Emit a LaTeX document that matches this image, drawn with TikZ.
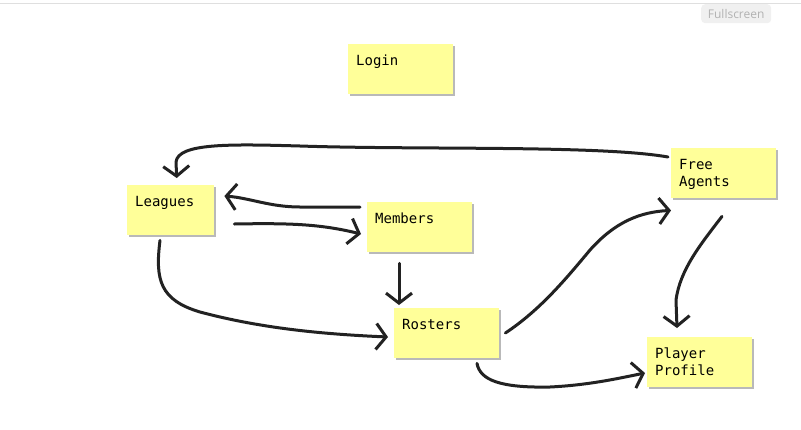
\documentclass[tikz,border=0pt]{standalone}
\usepackage{fontspec}
\newfontfamily\notefont{DejaVu Sans Mono}
\newfontfamily\uifont{Open Sans}
\usetikzlibrary{arrows.meta,shadows}

\definecolor{stickyyellow}{RGB}{255,255,153}
\definecolor{inkblack}{RGB}{34,34,34}

\tikzset{
  sticky/.style={fill=stickyyellow, anchor=north west, align=left,
    text width=89pt, inner xsep=8pt, inner ysep=0pt,
    text height=21pt, text depth=29pt, font=\notefont\fontsize{14}{17}\selectfont,
    drop shadow={shadow xshift=1.5pt, shadow yshift=-1.5pt, opacity=.55, fill=gray}},
  ink/.style={draw=inkblack, line width=3pt, line cap=round, line join=round,
    -{Straight Barb[length=10pt,width=26pt]}}
}

\begin{document}
\begin{tikzpicture}[x=1pt,y=-1pt]
  % Canvas
  \useasboundingbox[fill=white] (0,0) rectangle (801,429);
  \draw[gray!25, line width=1pt] (0,3) -- (801,3);
  \node[fill=gray!12, rounded corners=4pt, minimum width=70pt, minimum height=19pt,
    anchor=north west, text=gray!60, font=\uifont\fontsize{12}{14}\selectfont]
    (fullscreen) at (701,4) {Fullscreen};

  % Sticky notes
  \node[sticky] (login) at (348,44) {Login};
  \node[sticky, text width=71pt] (leagues) at (127,185) {Leagues};
  \node[sticky] (members) at (367,202) {Members};
  \node[sticky] (rosters) at (394,308) {Rosters};
  \node[sticky] (freeagents) at (671,148) {Free\\Agents};
  \node[sticky] (profile) at (647,337) {Player\\Profile};

  % Hand drawn arrows
  \draw[ink] ([shift={(-3,9)}]freeagents.north west)
    .. controls (600,145) and (420,150) .. (300,146)
    .. controls (230,144) and (178,143) .. (176,162)
    -- ([shift={(6,-7)}]leagues.north);
  \draw[ink] ([shift={(-7,5)}]members.north west) -- (300,207)
    .. controls (270,207) and (250,198) .. ([shift={(10,11)}]leagues.north east);
  \draw[ink] ([shift={(20,39)}]leagues.north east)
    .. controls (290,223) and (320,224) .. ([shift={(-6,32)}]members.north west);
  \draw[ink] ([shift={(32,11)}]members.south west) -- ([shift={(5,-3)}]rosters.north west);
  \draw[ink] ([shift={(33,5)}]leagues.south west)
    .. controls (155,280) and (160,300) .. (200,312)
    .. controls (260,328) and (320,334) .. ([shift={(-6,29)}]rosters.north west);
  \draw[ink] ([shift={(6,25)}]rosters.north east)
    .. controls (540,310) and (565,280) .. (590,250)
    .. controls (615,222) and (640,212) .. ([shift={(0,12)}]freeagents.south west);
  \draw[ink] ([shift={(51,18)}]freeagents.south west)
    .. controls (700,245) and (680,270) .. (676,300)
    -- ([shift={(30,-9)}]profile.north west);
  \draw[ink] ([shift={(83,5)}]rosters.south west)
    .. controls (480,380) and (500,388) .. (550,387)
    .. controls (590,385) and (620,378) .. ([shift={(-2,36)}]profile.north west);
\end{tikzpicture}
\end{document}
